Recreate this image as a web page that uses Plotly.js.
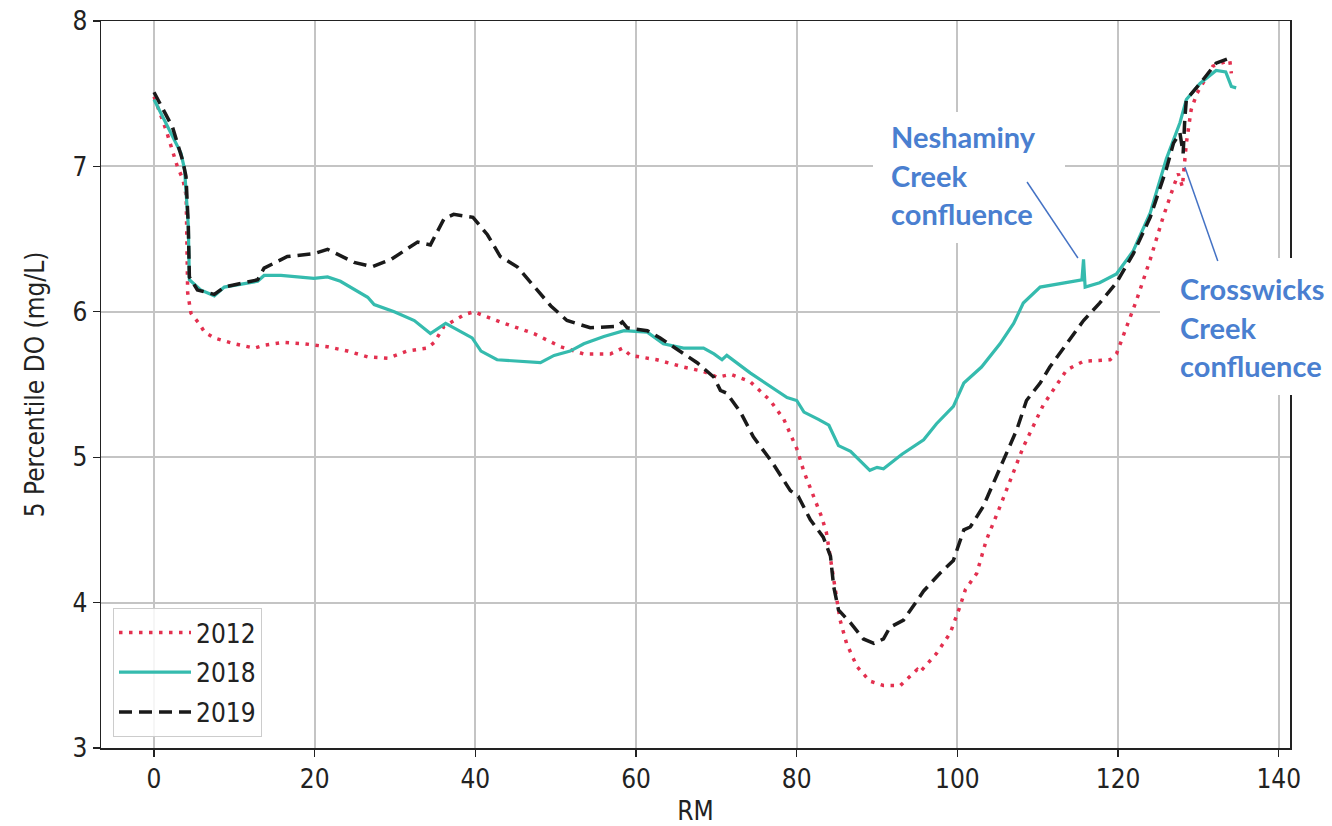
<!DOCTYPE html>
<html>
<head>
<meta charset="utf-8">
<script src="https://cdn.plot.ly/plotly-3.0.1.min.js"></script>
<style>
  html, body { margin: 0; padding: 0; background: #ffffff; }
  #chart { width: 1332px; height: 826px; }
</style>
</head>
<body>
<div id="chart"></div>
<script>
// ---- Data ----
const seriesNames = ["2012", "2018", "2019"];

const rm2012 = [0, 1.5, 2.9, 3.6, 4.0, 4.19, 4.6, 5.6, 6.3, 7.5, 10.0, 12.5, 13.7, 16.2, 18.7, 21.6, 24.1, 26.6, 29.1, 31.5, 34.0, 34.9, 36.1, 38.6, 39.8, 43.1, 47.3, 50.6, 53.5, 56.8, 58.3, 59.3, 62.6, 65.9, 68.4, 70.1, 71.8, 74.2, 76.7, 78.4, 80.0, 80.9, 82.1, 83.1, 83.7, 84.4, 85.0, 85.4, 86.2, 87.5, 89.1, 90.8, 92.9, 95.0, 95.3, 97.4, 99.1, 100.3, 101.0, 102.4, 103.6, 105.3, 107.0, 108.2, 110.7, 113.6, 115.7, 119.0, 119.8, 121.1, 122.3, 124.0, 125.6, 126.9, 127.5, 128.0, 128.3, 128.5, 129.1, 129.8, 131.8, 133.9, 134.1];
const do2012 = [7.48, 7.25, 7.0, 6.91, 6.8, 6.13, 5.99, 5.92, 5.86, 5.82, 5.78, 5.75, 5.77, 5.79, 5.78, 5.76, 5.73, 5.69, 5.68, 5.73, 5.75, 5.79, 5.90, 5.98, 6.00, 5.93, 5.85, 5.76, 5.71, 5.71, 5.75, 5.70, 5.67, 5.62, 5.59, 5.55, 5.57, 5.52, 5.39, 5.26, 5.06, 4.90, 4.73, 4.59, 4.48, 4.25, 4.02, 3.88, 3.72, 3.56, 3.46, 3.43, 3.43, 3.54, 3.52, 3.65, 3.79, 3.97, 4.09, 4.20, 4.43, 4.66, 4.91, 5.07, 5.36, 5.60, 5.66, 5.67, 5.71, 5.90, 6.08, 6.36, 6.65, 6.86, 6.95, 6.86, 7.02, 7.16, 7.39, 7.50, 7.69, 7.73, 7.64];

const rm2018 = [0, 1.7, 3.36, 3.8, 4.27, 4.4, 5.8, 7.5, 8.75, 12.9, 13.7, 15.8, 19.9, 21.6, 23.2, 26.6, 27.4, 29.9, 32.4, 34.4, 36.3, 39.6, 40.7, 42.7, 46.1, 48.1, 49.8, 51.8, 53.5, 56.0, 58.5, 61.4, 63.4, 65.9, 68.4, 69.7, 70.7, 71.3, 74.2, 76.7, 78.8, 80.0, 80.9, 82.7, 84.0, 85.2, 86.7, 89.1, 90.0, 90.8, 93.1, 95.8, 97.4, 99.5, 100.8, 103.0, 105.3, 107.0, 108.2, 110.3, 113.6, 115.5, 115.7, 115.9, 117.7, 119.8, 121.9, 124.0, 126.0, 127.7, 128.5, 130.2, 132.2, 133.4, 134.1, 134.7];
const do2018 = [7.46, 7.27, 7.09, 6.98, 6.59, 6.22, 6.15, 6.11, 6.17, 6.21, 6.25, 6.25, 6.23, 6.24, 6.21, 6.10, 6.05, 6.00, 5.94, 5.85, 5.92, 5.82, 5.73, 5.67, 5.66, 5.65, 5.70, 5.73, 5.78, 5.83, 5.87, 5.86, 5.78, 5.75, 5.75, 5.71, 5.67, 5.70, 5.58, 5.49, 5.41, 5.39, 5.31, 5.26, 5.22, 5.08, 5.04, 4.91, 4.93, 4.92, 5.02, 5.12, 5.23, 5.35, 5.51, 5.62, 5.78, 5.92, 6.06, 6.17, 6.20, 6.22, 6.36, 6.17, 6.20, 6.26, 6.42, 6.68, 7.05, 7.30, 7.46, 7.57, 7.66, 7.65, 7.55, 7.54];

const rm2019 = [0, 2.3, 3.57, 3.98, 4.27, 4.4, 5.4, 7.5, 8.75, 12.9, 13.7, 16.6, 19.9, 21.6, 24.9, 27.2, 29.5, 32.8, 34.4, 36.1, 37.3, 39.7, 41.5, 43.1, 45.2, 49.4, 51.4, 54.3, 57.6, 58.3, 58.9, 61.4, 63.0, 65.1, 67.6, 69.7, 70.5, 71.3, 73.0, 74.6, 77.0, 79.2, 80.2, 81.7, 83.3, 84.2, 84.6, 85.2, 86.7, 88.3, 89.6, 90.8, 91.6, 93.3, 95.8, 97.8, 99.5, 100.8, 101.6, 103.2, 105.3, 107.4, 108.6, 110.3, 111.5, 115.7, 117.7, 119.8, 121.9, 124.0, 126.0, 126.9, 127.7, 128.1, 128.3, 128.5, 130.2, 132.2, 134.1];
const do2019 = [7.51, 7.27, 7.04, 6.93, 6.59, 6.24, 6.15, 6.12, 6.17, 6.22, 6.30, 6.38, 6.40, 6.43, 6.34, 6.31, 6.36, 6.48, 6.46, 6.64, 6.67, 6.65, 6.53, 6.38, 6.31, 6.04, 5.94, 5.89, 5.90, 5.93, 5.89, 5.87, 5.82, 5.74, 5.65, 5.55, 5.46, 5.44, 5.31, 5.14, 4.96, 4.77, 4.73, 4.57, 4.45, 4.32, 4.11, 3.95, 3.86, 3.75, 3.72, 3.75, 3.83, 3.88, 4.08, 4.20, 4.29, 4.50, 4.52, 4.66, 4.93, 5.19, 5.39, 5.51, 5.62, 5.94, 6.06, 6.20, 6.40, 6.65, 6.98, 7.16, 7.23, 7.09, 7.32, 7.46, 7.57, 7.71, 7.75];

const xTickVals = [0, 20, 40, 60, 80, 100, 120, 140];
const yTickVals = [3, 4, 5, 6, 7, 8];
const xTitle = "RM";
const yTitle = "5 Percentile DO (mg/L)";

const neshaminyLines = ["Neshaminy", "Creek", "confluence"];
const crosswicksLines = ["Crosswicks", "Creek", "confluence"];

// ---- Styling ----
const tickFont = { family: "DejaVu Sans Condensed, DejaVu Sans, sans-serif", size: 26, color: "#222222" };
const noteFont = { family: "Lato, Open Sans, sans-serif", size: 29, color: "#4A7FD0", weight: 700 };
const noteBlue = "#4472C4";

const traces = [
  { x: rm2012, y: do2012, name: seriesNames[0], legendgroup: "a", type: "scatter", mode: "lines",
    line: { color: "#E3304F", width: 3.5, dash: "3.5px,6.5px" } },
  { x: rm2018, y: do2018, name: seriesNames[1], legendgroup: "b", type: "scatter", mode: "lines",
    line: { color: "#35BBAE", width: 3.2 } },
  { x: rm2019, y: do2019, name: seriesNames[2], legendgroup: "c", type: "scatter", mode: "lines",
    line: { color: "#1a1a1a", width: 3.5, dash: "13px,7px" } }
];

// helpers for pixel -> paper (plot area: x 101..1290, y 21..748)
const L = 101, R = 1290, T = 21, B = 748;
const px = v => (v - L) / (R - L);
const py = v => (B - v) / (B - T);

const shapes = [
  { type: "rect", xref: "paper", yref: "paper", x0: px(873), x1: px(1065), y0: py(243), y1: py(112),
    fillcolor: "#ffffff", line: { width: 0 }, layer: "above" },
  { type: "rect", xref: "paper", yref: "paper", x0: px(1160), x1: px(1332), y0: py(395), y1: py(258),
    fillcolor: "#ffffff", line: { width: 0 }, layer: "above" },
  { type: "line", xref: "x", yref: "y", x0: 108.67, y0: 6.893, x1: 115.0, y1: 6.37,
    line: { color: noteBlue, width: 1.5 }, layer: "above" },
  { type: "line", xref: "x", yref: "y", x0: 128.31, y0: 6.996, x1: 132.41, y1: 6.349,
    line: { color: noteBlue, width: 1.5 }, layer: "above" }
];

const annotations = [];
function addLines(lines, leftPx, baselines) {
  lines.forEach((t, i) => {
    annotations.push({
      text: t, xref: "paper", yref: "paper", x: px(leftPx), y: py(baselines[i] - 10),
      xanchor: "left", yanchor: "middle", showarrow: false, font: noteFont
    });
  });
}
addLines(neshaminyLines, 889, [146, 185, 223]);
addLines(crosswicksLines, 1178, [298, 337, 375]);

const layout = {
  width: 1332, height: 826,
  margin: { l: L, r: 1332 - R, t: T, b: 826 - B, pad: 0 },
  paper_bgcolor: "#ffffff", plot_bgcolor: "#ffffff",
  showlegend: true,
  legend: {
    x: px(113), y: py(737), xanchor: "left", yanchor: "bottom",
    bgcolor: "rgba(255,255,255,0.85)", bordercolor: "#cccccc", borderwidth: 1,
    font: tickFont, itemwidth: 72, tracegroupgap: 3
  },
  xaxis: {
    range: [-6.6, 141.4], tickvals: xTickVals, ticktext: xTickVals.map(String),
    showgrid: true, gridcolor: "#c4c4c4", gridwidth: 2, zeroline: false,
    showline: true, mirror: true, linecolor: "#222222", linewidth: 1.5,
    ticks: "outside", ticklen: 7, tickwidth: 1.3, tickcolor: "#222222",
    tickfont: tickFont, automargin: false,
    title: { text: xTitle, font: tickFont, standoff: 13 }
  },
  yaxis: {
    range: [3, 8], tickvals: yTickVals, ticktext: yTickVals.map(String),
    showgrid: true, gridcolor: "#c4c4c4", gridwidth: 2, zeroline: false,
    showline: true, mirror: true, linecolor: "#222222", linewidth: 1.5,
    ticks: "outside", ticklen: 7, tickwidth: 1.3, tickcolor: "#222222",
    tickfont: tickFont, automargin: false,
    title: { text: yTitle, font: tickFont, standoff: 20 }
  },
  shapes: shapes,
  annotations: annotations
};

Plotly.newPlot("chart", traces, layout, { staticPlot: true, displayModeBar: false });
</script>
</body>
</html>
